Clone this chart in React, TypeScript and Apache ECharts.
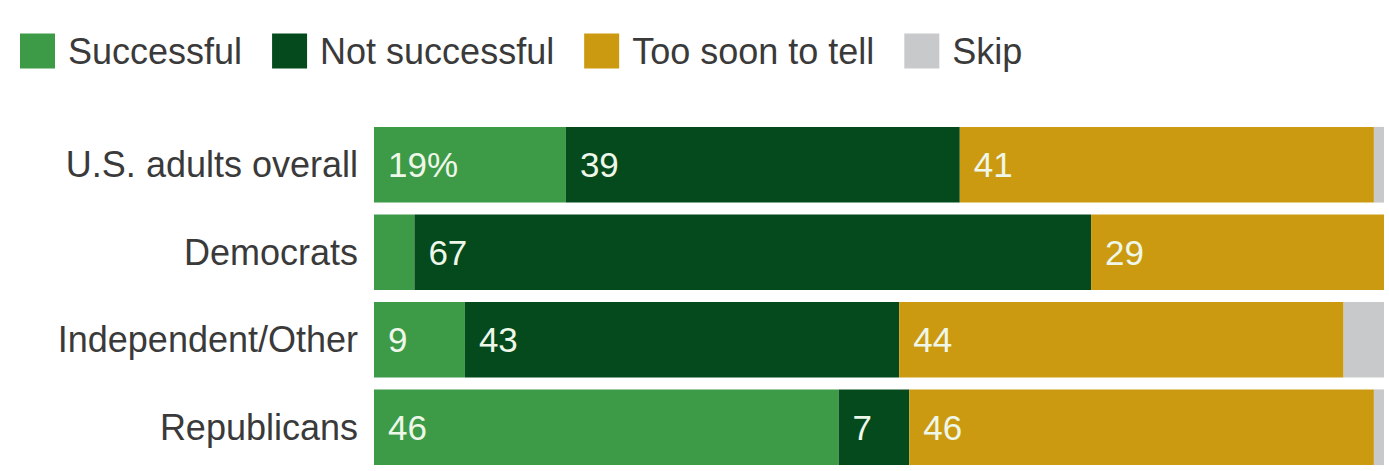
import React, { useEffect, useRef } from "react";
import * as echarts from "echarts";

const categories = ["U.S. adults overall", "Democrats", "Independent/Other", "Republicans"];
const seriesNames = ["Successful", "Not successful", "Too soon to tell", "Skip"];
const successful = [19, 4, 9, 46];
const notSuccessful = [39, 67, 43, 7];
const tooSoon = [41, 29, 44, 46];
const skip = [1, 0, 4, 1];

const colors = ["#3d9a47", "#044a1d", "#cc9a10", "#c8c9ca"];
const FONT = "'Liberation Sans', Arial, sans-serif";

export default function App() {
  const ref = useRef<HTMLDivElement>(null);

  useEffect(() => {
    if (!ref.current) return;
    const chart = echarts.init(ref.current, null, { renderer: "svg" });
    const values = [successful, notSuccessful, tooSoon, skip];
    const series = values.map((arr, si) => ({
      name: seriesNames[si],
      type: "bar",
      stack: "total",
      barCategoryGap: "13.5%",
      itemStyle: { color: colors[si] },
      label: {
        show: si < 3,
        position: "insideLeft",
        distance: 14,
        color: "#eef7e8",
        fontFamily: FONT,
        fontSize: 35,
        formatter: (p: any) => {
          if (p.value < 5) return "";
          if (si === 0 && p.dataIndex === 0) return p.value + "%";
          return String(p.value);
        },
      },
      emphasis: { disabled: true },
      data: arr,
    }));

    chart.setOption({
      animation: false,
      legend: {
        left: 20,
        top: 33,
        padding: 0,
        itemWidth: 35,
        itemHeight: 35,
        itemGap: 30,
        icon: "rect",
        selectedMode: false,
        textStyle: {
          fontFamily: FONT,
          fontSize: 36,
          color: "#3a3a3a",
          padding: [0, 0, 0, 8],
        },
        data: seriesNames,
      },
      grid: { left: 374, right: 5, top: 121, bottom: -5.5, containLabel: false },
      xAxis: {
        type: "value",
        min: 0,
        max: 100,
        show: false,
      },
      yAxis: {
        type: "category",
        inverse: true,
        data: categories,
        axisLine: { show: false },
        axisTick: { show: false },
        axisLabel: {
          margin: 16,
          fontFamily: FONT,
          fontSize: 36,
          color: "#3a3a3a",
        },
      },
      series,
    });
    return () => chart.dispose();
  }, []);

  return (
    <div
      ref={ref}
      style={{ position: "fixed", left: 0, top: 0, width: 1389, height: 471, background: "#ffffff" }}
    />
  );
}
